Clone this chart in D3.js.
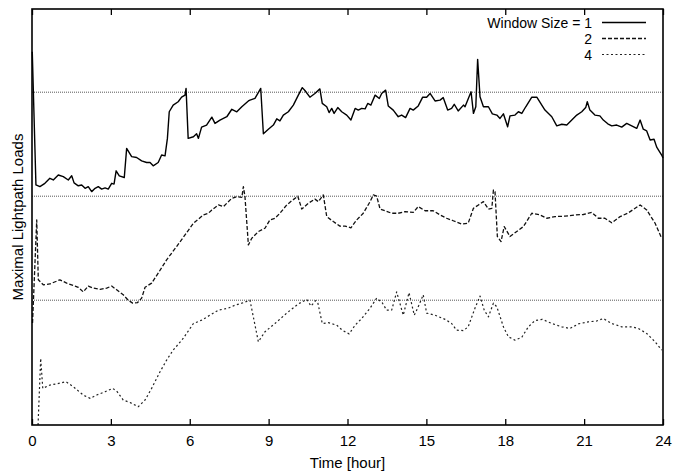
<!DOCTYPE html>
<html>
<head>
<meta charset="utf-8">
<title>Maximal Lightpath Loads</title>
<script src="https://cdn.jsdelivr.net/npm/d3@7/dist/d3.min.js"></script>
<style>
  body { margin: 0; background: #fff; }
  svg text { font-family: "Liberation Sans", Arial, Helvetica, sans-serif; fill: #000; }
</style>
</head>
<body>
<svg id="chart" width="673" height="471"></svg>
<script>
// x ticks (hours)
const hourTicks = [0, 3, 6, 9, 12, 15, 18, 21, 24];
// dotted reference levels
const refLevels = [80, 55, 30];

// legend
const legendLabels = ["Window Size = 1", "2", "4"];

// window size = 1 (solid)
const w1Hours = [0.01, 0.15, 0.30, 0.49, 0.68, 0.81, 1.00, 1.19, 1.38, 1.51, 1.60, 1.76, 1.89, 2.02, 2.14, 2.27, 2.40, 2.52, 2.65, 2.78, 2.90, 3.03, 3.12, 3.20, 3.32, 3.51, 3.60, 3.79, 3.98, 4.17, 4.36, 4.49, 4.61, 4.80, 4.93, 5.06, 5.15, 5.22, 5.37, 5.56, 5.69, 5.82, 5.86, 5.94, 6.14, 6.26, 6.33, 6.45, 6.64, 6.84, 6.96, 7.15, 7.41, 7.60, 7.79, 7.98, 8.23, 8.29, 8.48, 8.70, 8.80, 8.99, 9.18, 9.31, 9.43, 9.56, 9.75, 9.94, 10.13, 10.28, 10.38, 10.57, 10.76, 10.95, 11.04, 11.21, 11.30, 11.40, 11.49, 11.63, 11.78, 11.97, 12.13, 12.29, 12.41, 12.54, 12.67, 12.77, 12.89, 13.05, 13.21, 13.30, 13.45, 13.55, 13.74, 13.93, 14.06, 14.21, 14.38, 14.50, 14.69, 14.86, 15.01, 15.14, 15.33, 15.52, 15.64, 15.81, 15.96, 16.06, 16.21, 16.41, 16.47, 16.70, 16.79, 16.88, 16.95, 17.04, 17.17, 17.36, 17.51, 17.68, 17.80, 17.93, 18.09, 18.18, 18.37, 18.50, 18.63, 18.78, 19.01, 19.20, 19.51, 19.77, 19.96, 20.15, 20.34, 20.53, 20.72, 20.91, 21.06, 21.12, 21.22, 21.41, 21.60, 21.73, 21.90, 22.05, 22.24, 22.43, 22.62, 22.81, 23.00, 23.13, 23.25, 23.38, 23.51, 23.66, 23.76, 23.95, 24.00];
const w1Loads = [89.7, 57.7, 57.3, 58.1, 59.3, 58.9, 60.1, 59.7, 58.9, 59.9, 58.2, 57.5, 57.7, 56.9, 57.3, 56.1, 56.9, 57.3, 56.7, 57.0, 56.7, 58.1, 57.9, 61.1, 59.9, 59.5, 66.5, 64.5, 64.3, 63.5, 63.1, 63.1, 62.3, 63.1, 64.9, 64.7, 68.9, 75.3, 76.9, 77.7, 78.8, 79.3, 80.9, 68.9, 69.3, 70.0, 68.9, 71.6, 72.1, 74.0, 72.5, 73.3, 74.1, 75.9, 75.3, 76.5, 77.9, 78.1, 78.5, 80.9, 70.0, 71.1, 72.1, 73.6, 73.1, 74.5, 75.3, 76.9, 79.3, 81.1, 80.4, 78.8, 79.7, 80.8, 77.3, 76.5, 75.1, 76.1, 74.9, 76.3, 75.3, 74.5, 73.3, 76.1, 75.7, 76.1, 76.0, 77.3, 76.9, 79.3, 78.5, 79.7, 80.5, 76.7, 75.7, 74.1, 74.5, 73.9, 76.1, 75.7, 76.7, 78.8, 78.8, 79.7, 77.9, 78.1, 78.7, 75.7, 76.1, 77.1, 75.5, 76.9, 76.5, 80.1, 74.9, 76.5, 87.9, 78.9, 76.5, 76.5, 74.8, 74.5, 73.7, 74.8, 71.7, 74.3, 74.5, 75.3, 74.9, 76.5, 78.8, 78.8, 75.7, 74.1, 71.9, 72.3, 72.1, 73.3, 74.5, 75.3, 76.3, 77.7, 75.7, 74.5, 74.3, 73.3, 72.4, 71.9, 72.1, 71.6, 72.5, 71.9, 71.3, 73.3, 71.1, 70.7, 68.5, 68.7, 66.8, 64.9, 64.2];

// window size = 2 (dashed)
const w2Hours = [0.02, 0.18, 0.24, 0.43, 0.68, 1.06, 1.32, 1.64, 1.76, 1.95, 2.14, 2.33, 2.59, 2.84, 3.03, 3.22, 3.47, 3.66, 3.83, 4.01, 4.17, 4.30, 4.55, 4.80, 5.12, 5.50, 5.82, 6.14, 6.52, 6.71, 6.84, 7.09, 7.28, 7.60, 7.79, 7.98, 8.04, 8.10, 8.23, 8.36, 8.61, 8.86, 9.05, 9.24, 9.43, 9.69, 9.88, 10.11, 10.26, 10.51, 10.76, 10.89, 11.08, 11.21, 11.46, 11.71, 11.91, 12.13, 12.35, 12.60, 12.86, 12.98, 13.11, 13.24, 13.43, 13.68, 13.93, 14.19, 14.50, 14.69, 14.95, 15.26, 15.52, 15.77, 16.02, 16.34, 16.59, 16.79, 16.98, 17.17, 17.36, 17.49, 17.55, 17.61, 17.70, 17.84, 17.96, 18.18, 18.37, 18.69, 19.01, 19.32, 19.58, 19.89, 20.27, 20.65, 20.97, 21.29, 21.54, 21.79, 22.05, 22.37, 22.68, 23.13, 23.38, 23.70, 23.95];
const w2Loads = [24.5, 49.3, 34.9, 33.7, 33.9, 34.9, 34.1, 33.4, 33.1, 32.0, 33.4, 32.9, 32.6, 32.9, 33.4, 32.5, 31.3, 30.0, 29.3, 29.4, 30.5, 33.1, 34.1, 36.5, 39.7, 42.9, 45.7, 48.5, 50.5, 50.9, 51.7, 52.9, 52.5, 54.5, 54.9, 54.7, 57.3, 54.9, 43.3, 44.9, 46.5, 47.3, 49.3, 49.7, 50.9, 52.9, 53.9, 55.0, 51.9, 53.3, 54.3, 53.7, 55.3, 50.1, 48.9, 47.8, 47.8, 47.4, 49.3, 50.9, 53.7, 55.3, 55.0, 51.9, 51.5, 50.9, 50.9, 51.3, 51.1, 52.5, 51.5, 51.5, 50.5, 49.7, 49.1, 48.3, 48.5, 52.1, 52.9, 53.7, 51.9, 52.1, 56.5, 56.1, 45.3, 44.1, 47.7, 45.3, 46.2, 47.7, 50.9, 50.5, 49.7, 50.1, 50.2, 50.5, 50.6, 51.1, 49.7, 49.7, 48.6, 50.1, 51.0, 52.9, 51.7, 48.5, 44.9];

// window size = 4 (dotted)
const w4Hours = [0.23, 0.33, 0.41, 0.68, 0.94, 1.29, 1.57, 1.95, 2.21, 2.46, 2.78, 3.07, 3.24, 3.47, 3.73, 4.04, 4.30, 4.55, 4.87, 5.12, 5.37, 5.75, 6.14, 6.45, 6.77, 7.09, 7.47, 7.72, 8.04, 8.29, 8.61, 8.86, 9.24, 9.69, 10.13, 10.45, 10.61, 10.79, 10.87, 11.04, 11.27, 11.59, 11.80, 12.06, 12.29, 12.54, 12.86, 13.11, 13.32, 13.49, 13.68, 13.87, 14.12, 14.34, 14.54, 14.69, 14.88, 15.01, 15.33, 15.71, 15.96, 16.15, 16.41, 16.59, 16.85, 17.04, 17.20, 17.36, 17.55, 17.68, 17.93, 18.12, 18.37, 18.63, 18.88, 19.13, 19.41, 19.77, 20.15, 20.46, 20.78, 21.16, 21.48, 21.73, 22.05, 22.43, 22.81, 23.06, 23.38, 23.70, 23.95];
const w4Loads = [0.0, 16.0, 8.8, 9.6, 9.9, 10.4, 9.2, 7.2, 6.4, 7.2, 8.0, 8.8, 8.0, 6.0, 5.4, 4.4, 6.0, 8.8, 12.8, 15.6, 18.0, 20.8, 24.4, 25.2, 26.4, 27.6, 28.1, 28.8, 29.4, 30.0, 20.0, 22.4, 24.4, 26.9, 29.1, 30.2, 28.6, 29.9, 29.4, 24.4, 24.6, 24.0, 22.8, 21.9, 24.0, 25.6, 28.1, 30.5, 29.4, 27.6, 27.6, 32.0, 26.4, 31.8, 26.4, 28.4, 31.3, 26.9, 26.4, 25.4, 24.4, 22.8, 22.7, 23.6, 28.1, 31.0, 27.6, 26.0, 29.3, 28.4, 23.6, 21.2, 20.4, 21.1, 23.6, 25.1, 25.4, 24.4, 23.6, 23.2, 24.3, 24.8, 25.0, 25.6, 24.4, 23.6, 23.6, 23.2, 22.0, 20.0, 18.0];

const plotLeft = 32, plotRight = 663, plotTop = 9, plotBottom = 425;

const svg = d3.select("#chart");

const x = d3.scaleLinear().domain([0, 24]).range([plotLeft, plotRight]);
const y = d3.scaleLinear().domain([0, 100]).range([plotBottom, plotTop]);

// dotted reference lines
svg.append("g")
    .selectAll("line")
    .data(refLevels)
    .join("line")
    .attr("x1", plotLeft)
    .attr("x2", plotRight)
    .attr("y1", d => y(d))
    .attr("y2", d => y(d))
    .attr("stroke", "#444")
    .attr("stroke-width", 0.9)
    .attr("stroke-dasharray", "1,1");

const series = [
    { hours: w1Hours, loads: w1Loads, dash: null, width: 1.4, color: "#000" },
    { hours: w2Hours, loads: w2Loads, dash: "4,2", width: 1.3, color: "#111" },
    { hours: w4Hours, loads: w4Loads, dash: "2,2.5", width: 1.2, color: "#222" }
];

const line = d3.line()
    .x(d => x(d[0]))
    .y(d => y(d[1]));

svg.append("g")
    .selectAll("path")
    .data(series)
    .join("path")
    .attr("d", s => line(d3.zip(s.hours, s.loads)))
    .attr("fill", "none")
    .attr("stroke", s => s.color)
    .attr("stroke-width", s => s.width)
    .attr("stroke-linejoin", "round")
    .attr("stroke-dasharray", s => s.dash);

// axes (ticks point inwards)
const gx = svg.append("g")
    .attr("transform", `translate(0,${plotBottom})`)
    .call(d3.axisBottom(x).tickValues(hourTicks).tickFormat(d3.format("d"))
        .tickSizeInner(-6).tickSizeOuter(0).tickPadding(10));
gx.select(".domain").remove();
gx.selectAll("line").attr("stroke", "#000").attr("stroke-width", 1.3);
gx.selectAll("text").attr("font-size", 15);

const gxTop = svg.append("g")
    .attr("transform", `translate(0,${plotTop})`)
    .call(d3.axisTop(x).tickValues(hourTicks).tickFormat("")
        .tickSizeInner(-6).tickSizeOuter(0));
gxTop.select(".domain").remove();
gxTop.selectAll("line").attr("stroke", "#000").attr("stroke-width", 1.3);

// frame
svg.append("rect")
    .attr("x", plotLeft)
    .attr("y", plotTop)
    .attr("width", plotRight - plotLeft)
    .attr("height", plotBottom - plotTop)
    .attr("fill", "none")
    .attr("stroke", "#000")
    .attr("stroke-width", 1.6);

// axis titles
svg.append("text")
    .attr("x", (plotLeft + plotRight) / 2)
    .attr("y", 468)
    .attr("text-anchor", "middle")
    .attr("font-size", 15)
    .text("Time [hour]");

svg.append("text")
    .attr("transform", `translate(23,${(plotTop + plotBottom) / 2}) rotate(-90)`)
    .attr("text-anchor", "middle")
    .attr("font-size", 15)
    .text("Maximal Lightpath Loads");

// legend
const legend = svg.append("g");
legendLabels.forEach((lab, i) => {
    const yy = 22.5 + i * 16;
    legend.append("text")
        .attr("x", 592)
        .attr("y", yy + 5)
        .attr("text-anchor", "end")
        .attr("font-size", 14)
        .text(lab);
    legend.append("line")
        .attr("x1", 602)
        .attr("x2", 646)
        .attr("y1", yy)
        .attr("y2", yy)
        .attr("stroke", series[i].color)
        .attr("stroke-width", series[i].width)
        .attr("stroke-dasharray", series[i].dash);
});
</script>
</body>
</html>
